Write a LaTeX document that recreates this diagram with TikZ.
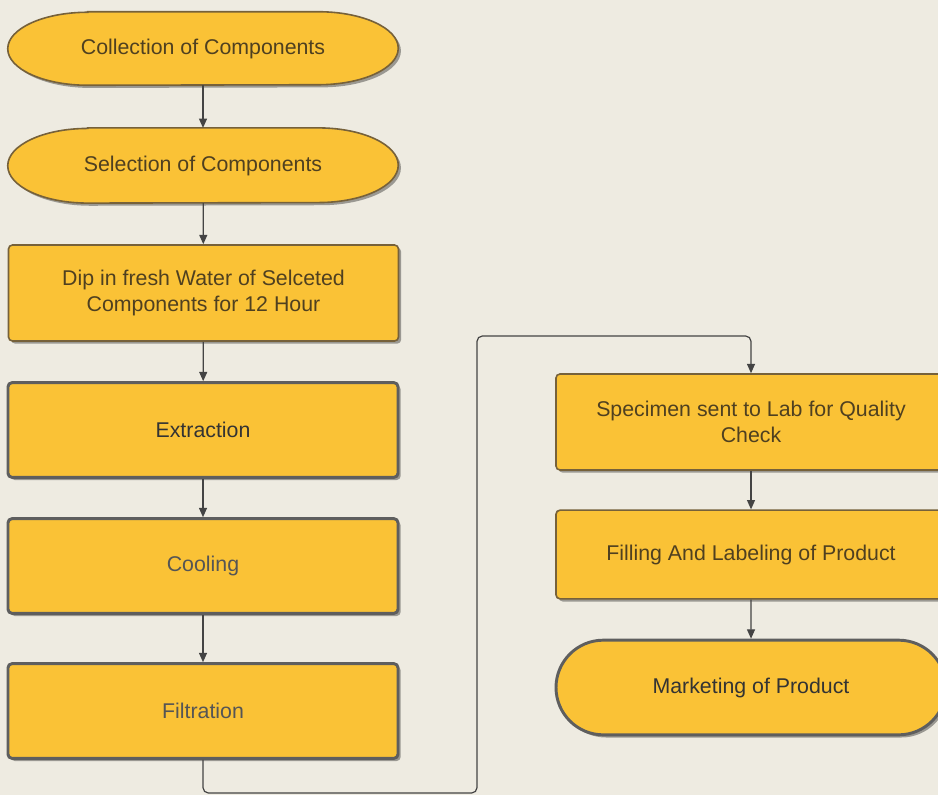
\documentclass[tikz,border=0pt]{standalone}
\usepackage{fontspec}
\setmainfont{Liberation Sans}
\usetikzlibrary{shapes.misc,shadows,arrows.meta,calc}
\definecolor{bgc}{HTML}{EEEBE1}
\definecolor{boxfill}{HTML}{FAC236}
\definecolor{brownline}{HTML}{76613A}
\definecolor{grayline}{HTML}{5E5E5E}
\definecolor{browntext}{HTML}{4F4020}
\definecolor{darktext}{HTML}{333333}
\definecolor{graytext}{HTML}{555555}
\definecolor{connc}{HTML}{444444}
\tikzset{
  shad/.style={drop shadow={shadow xshift=2pt,shadow yshift=-2pt,fill=black,opacity=0.35}},
  boxbase/.style={rectangle,rounded corners=3pt,fill=boxfill,shad,font=\fontsize{16}{19.5}\selectfont,align=center,
    minimum width=292.5pt,inner sep=0pt},
  brownbox/.style={boxbase,draw=brownline,line width=1.2pt,text=browntext},
  graybox/.style={boxbase,draw=grayline,line width=2.2pt},
  termtext/.style={rectangle,draw=none,minimum width=292.5pt,inner sep=0pt,text=browntext,font=\fontsize{16}{19.5}\selectfont},
  termshape/.style={fill=boxfill,draw=brownline,line width=1.2pt,shad},
  conn/.style={draw=connc,line width=0.9pt,-{Triangle[width=6pt,length=7pt]}},
}
\begin{document}
\begin{tikzpicture}[x=0.75pt,y=-0.75pt]
\fill[bgc] (0,0) rectangle (938,795);
\useasboundingbox (0,0) rectangle (938,795);
% terminal shapes (elliptic ends)
\node[termtext,minimum height=54.75pt] (col) at (203,48.5) {};
\node[termtext,minimum height=56pt] (sel) at (203,165.5) {};
\foreach \n/\ry in {col/27.375pt,sel/28pt}{
  \path[termshape] ($(\n.north west)+(60pt,0)$) -- ($(\n.north east)+(-60pt,0)$)
    arc[start angle=90,end angle=-90,x radius=60pt,y radius=\ry]
    -- ($(\n.south west)+(60pt,0)$)
    arc[start angle=270,end angle=90,x radius=60pt,y radius=\ry] -- cycle;
}
\node[termtext] at (col) {Collection of Components};
\node[termtext] at (sel) {Selection of Components};
\node[brownbox,minimum height=72pt] (dip) at (203.5,293) {Dip in fresh Water of Selceted\\Components for 12 Hour};
\node[graybox,minimum height=71pt,text=darktext] (ext) at (203,430) {Extraction};
\node[graybox,minimum height=71pt,text=graytext] (coo) at (203,566) {Cooling};
\node[graybox,minimum height=71pt,text=graytext] (fil) at (203,711) {Filtration};
\node[brownbox,minimum height=72pt] (spe) at (751,422) {Specimen sent to Lab for Quality\\Check};
\node[brownbox,minimum height=66.5pt] (fll) at (751,554.5) {Filling And Labeling of Product};
\node[rounded rectangle,fill=boxfill,draw=grayline,line width=2.2pt,shad,minimum width=292.5pt,minimum height=71pt,
  inner sep=0pt,text=darktext,font=\fontsize{16}{19.5}\selectfont] (mkt) at (751,687.5) {Marketing of Product};
% connectors
\draw[conn] (col) -- (sel);
\draw[conn] (sel) -- (dip);
\draw[conn] (dip) -- (ext);
\draw[conn] (ext) -- (coo);
\draw[conn] (coo) -- (fil);
\draw[conn] (spe) -- (fll);
\draw[conn] (fll) -- (mkt);
\coordinate (lb) at (477,793);
\coordinate (lt) at (477,336);
\draw[conn,rounded corners=4pt] (fil.south) |- (lb) -- (lt) -| (spe.north);
\end{tikzpicture}
\end{document}
